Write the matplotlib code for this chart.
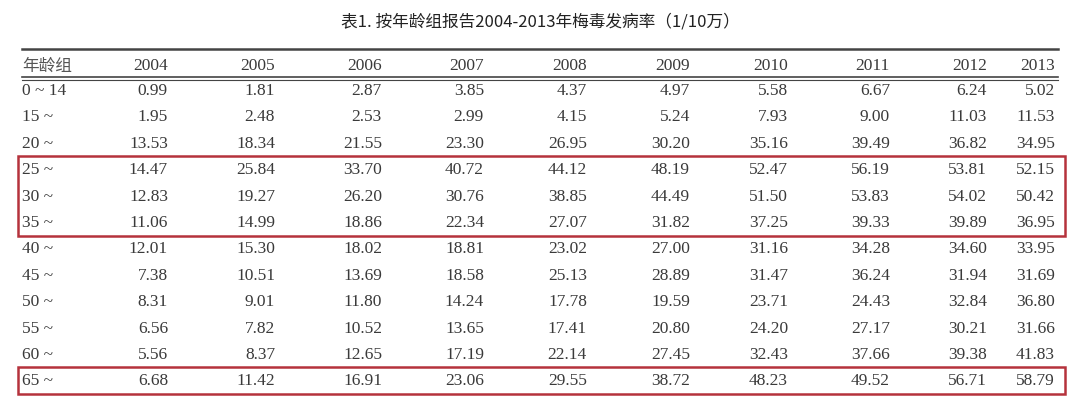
import matplotlib.pyplot as plt
from matplotlib.patches import Rectangle

plt.rcParams['font.family'] = ['Liberation Serif', 'Noto Sans CJK SC']

title = "表1. 按年龄组报告2004-2013年梅毒发病率（1/10万）"
years = ["2004", "2005", "2006", "2007", "2008", "2009", "2010", "2011", "2012", "2013"]
age_groups = ["0 ~ 14", "15 ~", "20 ~", "25 ~", "30 ~", "35 ~", "40 ~", "45 ~",
              "50 ~", "55 ~", "60 ~", "65 ~"]
rates = [
    ["0.99", "1.81", "2.87", "3.85", "4.37", "4.97", "5.58", "6.67", "6.24", "5.02"],
    ["1.95", "2.48", "2.53", "2.99", "4.15", "5.24", "7.93", "9.00", "11.03", "11.53"],
    ["13.53", "18.34", "21.55", "23.30", "26.95", "30.20", "35.16", "39.49", "36.82", "34.95"],
    ["14.47", "25.84", "33.70", "40.72", "44.12", "48.19", "52.47", "56.19", "53.81", "52.15"],
    ["12.83", "19.27", "26.20", "30.76", "38.85", "44.49", "51.50", "53.83", "54.02", "50.42"],
    ["11.06", "14.99", "18.86", "22.34", "27.07", "31.82", "37.25", "39.33", "39.89", "36.95"],
    ["12.01", "15.30", "18.02", "18.81", "23.02", "27.00", "31.16", "34.28", "34.60", "33.95"],
    ["7.38", "10.51", "13.69", "18.58", "25.13", "28.89", "31.47", "36.24", "31.94", "31.69"],
    ["8.31", "9.01", "11.80", "14.24", "17.78", "19.59", "23.71", "24.43", "32.84", "36.80"],
    ["6.56", "7.82", "10.52", "13.65", "17.41", "20.80", "24.20", "27.17", "30.21", "31.66"],
    ["5.56", "8.37", "12.65", "17.19", "22.14", "27.45", "32.43", "37.66", "39.38", "41.83"],
    ["6.68", "11.42", "16.91", "23.06", "29.55", "38.72", "48.23", "49.52", "56.71", "58.79"],
]
highlight_groups = [(3, 5), (11, 11)]

col_right = [168, 275, 382, 484, 587, 690, 788, 890, 987, 1055]
row_y0, row_dy = 91, 26.4
txt = '#3a3a3a'

fig = plt.figure(figsize=(10.8, 4.1), dpi=100)
ax = fig.add_axes([0, 0, 1, 1])
ax.set_xlim(0, 1080)
ax.set_ylim(410, 0)
ax.axis('off')

ax.text(540, 22, title, ha='center', va='center', fontsize=12, color='#222222',
        family=['Noto Sans CJK SC', 'DejaVu Sans'])

# rules
ax.plot([22, 1058], [50, 50], color='#444444', lw=1.8)
ax.plot([22, 1058], [78, 78], color='#444444', lw=1.2)
ax.plot([22, 1058], [81, 81], color='#444444', lw=0.8)

ax.text(22, 66, "年龄组", ha='left', va='center', fontsize=12, color='#555555',
        family=['Noto Sans CJK SC', 'DejaVu Sans'])
for x, y in zip(col_right, years):
    ax.text(x, 66, y, ha='right', va='center', fontsize=12.5, color=txt)

for i, (g, row) in enumerate(zip(age_groups, rates)):
    y = row_y0 + i * row_dy
    ax.text(22, y, g, ha='left', va='center', fontsize=12.5, color=txt)
    for x, v in zip(col_right, row):
        ax.text(x, y, v, ha='right', va='center', fontsize=12.5, color=txt)

for a, b in highlight_groups:
    top = row_y0 + a * row_dy - 13.5
    bot = row_y0 + b * row_dy + 13.5
    ax.add_patch(Rectangle((18, top), 1047, bot - top, fill=False,
                           edgecolor='#b5323c', lw=1.8))

fig.savefig('out.png', dpi=100)
